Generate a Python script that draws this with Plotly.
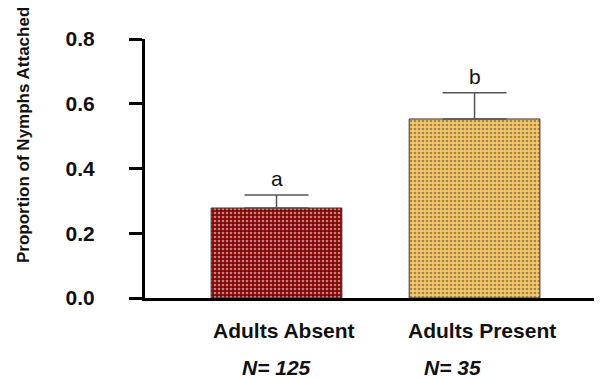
import plotly.graph_objects as go

categories = ["Adults Absent", "Adults Present"]
values = [0.278, 0.553]
errors_up = [0.040, 0.081]
letters = ["a", "b"]
n_labels = ["N= 125", "N= 35"]
bar_colors = ["#840404", "#F8C765"]
y_ticks = [0.0, 0.2, 0.4, 0.6, 0.8]
y_tick_text = ["0.0", "0.2", "0.4", "0.6", "0.8"]

xpos = list(range(len(categories)))

fig = go.Figure()
fig.add_trace(go.Bar(
    x=xpos, y=values, width=0.66,
    marker=dict(
        color=bar_colors,
        line=dict(color="#333333", width=1),
        pattern=dict(shape=".", fgcolor="#000000", size=4, solidity=0.35, fillmode="overlay"),
    ),
    error_y=dict(type="data", symmetric=False, array=errors_up,
                 arrayminus=[0] * len(values), color="#555555", thickness=1.5, width=32),
    showlegend=False,
))

ann = []
for i, (v, e, l) in enumerate(zip(values, errors_up, letters)):
    ann.append(dict(x=i, y=v + e, xref="x", yref="y", text=l, showarrow=False,
                    yanchor="bottom", yshift=3,
                    font=dict(family="Liberation Sans", size=21, color="#111111")))
for i, c in enumerate(categories):
    ann.append(dict(x=i, y=0, xref="x", yref="y", text=c, showarrow=False,
                    yanchor="middle", yshift=-32, xshift=7,
                    font=dict(family="Liberation Sans", size=21, color="#111111", weight="bold")))
n_shift = [0, -22]
for i, n in enumerate(n_labels):
    ann.append(dict(x=i, y=0, xref="x", yref="y", text=n, showarrow=False,
                    yanchor="middle", yshift=-69, xshift=n_shift[i],
                    font=dict(family="Liberation Sans", size=21, color="#111111",
                              weight="bold", style="italic")))
ann.append(dict(x=0, y=(298 - 135) / 259, xref="paper", yref="paper",
                text="Proportion of Nymphs Attached", textangle=-90, showarrow=False,
                xshift=-122, xanchor="center", yanchor="middle",
                font=dict(family="Liberation Sans", size=17, color="#111111", weight="bold")))

fig.update_layout(
    width=602, height=378,
    margin=dict(l=137, r=0, t=31, b=88),
    paper_bgcolor="white", plot_bgcolor="white",
    annotations=ann,
    xaxis=dict(range=[-0.664, 1.684], showline=True, linecolor="black", linewidth=3,
               showticklabels=False, ticks="", showgrid=False, zeroline=False),
    yaxis=dict(range=[0, 0.8], tickvals=y_ticks, ticktext=y_tick_text,
               showline=True, linecolor="black", linewidth=3, ticks="outside",
               ticklen=13, tickwidth=3, tickcolor="black", showgrid=False, zeroline=False,
               ticklabelstandoff=30,
               tickfont=dict(family="Liberation Sans", size=21, color="#111111", weight="bold")),
)

fig.write_html("out.html")
